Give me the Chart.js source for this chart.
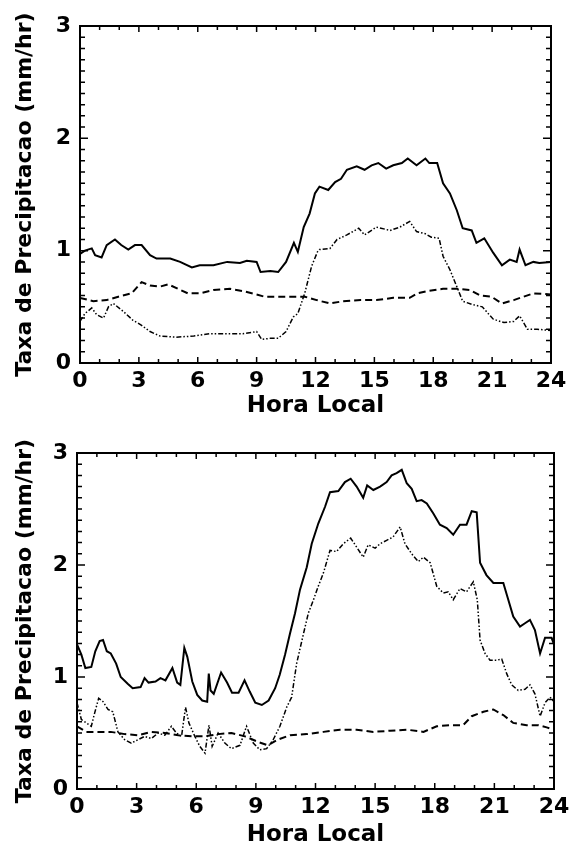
<!DOCTYPE html>
<html lang="pt">
<head>
  <meta charset="UTF-8">
  <title>Taxa de Precipitacao</title>
  <script src="https://cdn.jsdelivr.net/npm/chart.js"></script>
  <style>
    body { margin: 0; background: #fff; }
    canvas { display: block; }
  </style>
</head>
<body>
  <canvas id="top-chart" width="576" height="420"></canvas>
  <canvas id="bottom-chart" width="576" height="429"></canvas>

  <script>
    // ---- Painel superior ----
    const topSolidHours = [0, 0.25, 0.6, 0.77, 1.1, 1.36, 1.78, 2.1, 2.46, 2.8, 3.14, 3.57, 3.9, 4.6, 5.1, 5.7, 6.1, 6.8, 7.5, 8.15, 8.5, 9.0, 9.2, 9.7, 10.1, 10.5, 10.9, 11.1, 11.4, 11.7, 11.97, 12.2, 12.65, 13.0, 13.3, 13.6, 14.1, 14.5, 14.86, 15.2, 15.6, 15.96, 16.4, 16.7, 17.15, 17.6, 17.8, 18.2, 18.5, 18.85, 19.2, 19.5, 19.96, 20.2, 20.6, 21.06, 21.5, 21.9, 22.25, 22.4, 22.7, 23.1, 23.4, 24];
    const topSolidValues = [0.97, 1.0, 1.02, 0.96, 0.94, 1.05, 1.10, 1.05, 1.01, 1.05, 1.05, 0.96, 0.93, 0.93, 0.90, 0.85, 0.87, 0.87, 0.90, 0.89, 0.91, 0.90, 0.81, 0.82, 0.81, 0.90, 1.07, 0.99, 1.21, 1.33, 1.51, 1.57, 1.54, 1.61, 1.64, 1.72, 1.75, 1.72, 1.76, 1.78, 1.73, 1.76, 1.78, 1.82, 1.76, 1.82, 1.78, 1.78, 1.60, 1.51, 1.36, 1.20, 1.18, 1.07, 1.11, 0.98, 0.87, 0.92, 0.90, 1.01, 0.87, 0.90, 0.89, 0.90];

    const topDashHours = [0, 0.68, 1.36, 1.95, 2.63, 3.14, 3.57, 4.08, 4.5, 5.0, 5.5, 6.1, 6.8, 7.64, 8.3, 9.0, 9.4, 10.0, 10.9, 11.46, 12.06, 12.74, 13.4, 14.3, 15.1, 15.96, 16.8, 17.2, 17.7, 18.5, 19.2, 19.87, 20.4, 20.97, 21.5, 22.1, 22.6, 23.1, 24];
    const topDashValues = [0.58, 0.55, 0.56, 0.59, 0.62, 0.72, 0.69, 0.68, 0.70, 0.66, 0.62, 0.62, 0.65, 0.66, 0.64, 0.61, 0.59, 0.59, 0.59, 0.59, 0.56, 0.53, 0.55, 0.56, 0.56, 0.58, 0.58, 0.62, 0.64, 0.66, 0.66, 0.65, 0.60, 0.59, 0.53, 0.56, 0.59, 0.62, 0.61];

    const topDotHours = [0, 0.25, 0.6, 0.85, 1.2, 1.45, 1.7, 2.2, 2.7, 3.1, 3.57, 4.08, 4.9, 5.8, 6.6, 7.5, 8.3, 9.0, 9.26, 9.7, 10.1, 10.5, 10.87, 11.1, 11.45, 11.8, 12.1, 12.2, 12.74, 13.1, 13.6, 14.2, 14.5, 15.1, 15.8, 16.3, 16.8, 17.15, 17.6, 17.9, 18.3, 18.5, 18.85, 19.2, 19.5, 20.0, 20.5, 20.7, 21.06, 21.6, 22.1, 22.4, 22.8, 23.3, 24];
    const topDotValues = [0.37, 0.44, 0.49, 0.43, 0.40, 0.50, 0.53, 0.46, 0.38, 0.34, 0.28, 0.24, 0.23, 0.24, 0.26, 0.26, 0.26, 0.28, 0.21, 0.22, 0.22, 0.28, 0.41, 0.44, 0.62, 0.86, 0.99, 1.01, 1.02, 1.10, 1.14, 1.20, 1.14, 1.21, 1.18, 1.21, 1.26, 1.17, 1.15, 1.12, 1.11, 0.95, 0.83, 0.68, 0.55, 0.52, 0.50, 0.46, 0.39, 0.36, 0.37, 0.42, 0.30, 0.30, 0.29];

    // ---- Painel inferior ----
    const botSolidHours = [0, 0.22, 0.42, 0.72, 0.92, 1.14, 1.31, 1.5, 1.7, 1.97, 2.2, 2.55, 2.8, 3.2, 3.4, 3.6, 3.95, 4.2, 4.45, 4.8, 5.04, 5.2, 5.4, 5.55, 5.8, 6.05, 6.3, 6.55, 6.63, 6.72, 6.88, 7.25, 7.55, 7.8, 8.13, 8.43, 8.69, 8.97, 9.3, 9.64, 9.97, 10.2, 10.47, 10.72, 10.97, 11.22, 11.56, 11.81, 12.14, 12.48, 12.73, 13.15, 13.48, 13.77, 14.07, 14.4, 14.6, 14.91, 15.25, 15.58, 15.83, 16.08, 16.34, 16.59, 16.84, 17.09, 17.34, 17.6, 17.93, 18.26, 18.6, 18.93, 19.27, 19.6, 19.86, 20.11, 20.28, 20.6, 20.95, 21.45, 21.7, 21.95, 22.29, 22.54, 22.79, 23.04, 23.3, 23.55, 23.88, 24];
    const botSolidValues = [1.29, 1.20, 1.08, 1.09, 1.23, 1.32, 1.33, 1.23, 1.21, 1.12, 1.00, 0.94, 0.90, 0.91, 0.99, 0.95, 0.96, 0.99, 0.97, 1.08, 0.95, 0.93, 1.26, 1.18, 0.96, 0.84, 0.79, 0.78, 1.03, 0.88, 0.85, 1.04, 0.95, 0.86, 0.86, 0.97, 0.87, 0.77, 0.75, 0.79, 0.90, 1.02, 1.20, 1.39, 1.57, 1.78, 1.98, 2.19, 2.37, 2.52, 2.65, 2.66, 2.74, 2.77, 2.70, 2.60, 2.71, 2.67, 2.70, 2.74, 2.80, 2.82, 2.85, 2.73, 2.68, 2.57, 2.58, 2.55, 2.46, 2.36, 2.33, 2.27, 2.36, 2.36, 2.48, 2.47, 2.02, 1.91, 1.84, 1.84, 1.69, 1.54, 1.45, 1.48, 1.51, 1.42, 1.21, 1.35, 1.35, 1.29];

    const botDashHours = [0, 0.47, 1.06, 1.7, 2.4, 3.07, 3.74, 4.42, 5.1, 5.77, 6.44, 7.1, 7.77, 8.45, 9.12, 9.6, 10.1, 10.72, 11.56, 12.4, 13.23, 14.07, 14.91, 15.75, 16.59, 17.43, 18.1, 18.77, 19.43, 19.86, 20.45, 20.95, 21.45, 21.95, 22.62, 23.2, 23.63, 24];
    const botDashValues = [0.56, 0.51, 0.51, 0.51, 0.49, 0.48, 0.51, 0.50, 0.48, 0.47, 0.47, 0.49, 0.50, 0.47, 0.42, 0.39, 0.44, 0.48, 0.49, 0.51, 0.53, 0.53, 0.51, 0.52, 0.53, 0.51, 0.56, 0.57, 0.57, 0.65, 0.69, 0.71, 0.66, 0.59, 0.57, 0.57, 0.55, 0.53];

    const botDotHours = [0, 0.22, 0.47, 0.72, 0.89, 1.09, 1.31, 1.56, 1.8, 2.06, 2.4, 2.73, 3.07, 3.4, 3.74, 4.08, 4.42, 4.75, 5.0, 5.26, 5.46, 5.63, 5.93, 6.18, 6.44, 6.64, 6.8, 7.1, 7.44, 7.77, 8.2, 8.53, 8.87, 9.2, 9.54, 9.87, 10.21, 10.55, 10.8, 11.05, 11.4, 11.64, 11.9, 12.14, 12.4, 12.73, 13.06, 13.4, 13.77, 14.07, 14.4, 14.65, 15.0, 15.25, 15.58, 15.9, 16.26, 16.5, 16.84, 17.17, 17.43, 17.77, 18.1, 18.43, 18.68, 18.93, 19.27, 19.6, 19.94, 20.14, 20.28, 20.53, 20.78, 21.12, 21.37, 21.62, 21.87, 22.2, 22.54, 22.79, 23.04, 23.3, 23.55, 23.8, 24];
    const botDotValues = [0.77, 0.62, 0.59, 0.56, 0.68, 0.81, 0.78, 0.71, 0.69, 0.51, 0.44, 0.41, 0.44, 0.47, 0.45, 0.50, 0.48, 0.56, 0.50, 0.47, 0.73, 0.59, 0.47, 0.38, 0.32, 0.57, 0.38, 0.50, 0.41, 0.36, 0.39, 0.56, 0.41, 0.35, 0.36, 0.44, 0.56, 0.73, 0.82, 1.12, 1.39, 1.57, 1.69, 1.81, 1.93, 2.13, 2.12, 2.19, 2.24, 2.16, 2.07, 2.18, 2.15, 2.19, 2.22, 2.25, 2.34, 2.19, 2.10, 2.03, 2.07, 2.02, 1.81, 1.75, 1.76, 1.69, 1.79, 1.76, 1.85, 1.69, 1.33, 1.21, 1.15, 1.15, 1.16, 1.03, 0.93, 0.88, 0.89, 0.93, 0.85, 0.65, 0.77, 0.82, 0.78];

    const xTickStep = 3;
    const yMax = 3;

    // pair hours with values for a linear x axis
    function toPoints(hours, values) {
      return hours.map((h, i) => ({ x: h, y: values[i] }));
    }

    // frame box with inward ticks on all four sides
    const frameTicks = {
      id: 'frameTicks',
      afterDatasetsDraw(chart) {
        const { ctx, chartArea: a, scales: { x, y } } = chart;
        ctx.save();
        ctx.strokeStyle = '#000';
        ctx.lineWidth = 2;
        ctx.strokeRect(a.left, a.top, a.right - a.left, a.bottom - a.top);
        ctx.lineWidth = 1.5;
        ctx.beginPath();
        for (let h = 0; h <= 24; h++) {
          const px = x.getPixelForValue(h);
          const len = h % xTickStep === 0 ? 6 : 4;
          ctx.moveTo(px, a.bottom); ctx.lineTo(px, a.bottom - len);
          ctx.moveTo(px, a.top); ctx.lineTo(px, a.top + len);
        }
        for (let i = 0; i <= yMax * 10; i++) {
          const py = y.getPixelForValue(i / 10);
          const len = i % 10 === 0 ? 8 : 5;
          ctx.moveTo(a.left, py); ctx.lineTo(a.left + len, py);
          ctx.moveTo(a.right, py); ctx.lineTo(a.right - len, py);
        }
        ctx.stroke();
        ctx.restore();
      }
    };

    function makeChart(id, series, area, canvasH) {
      const tickFont = { family: 'DejaVu Sans', weight: 'bold', size: 22 };
      return new Chart(document.getElementById(id), {
        type: 'line',
        data: {
          datasets: [
            { data: toPoints(series[0][0], series[0][1]), borderColor: '#000', borderWidth: 2, pointRadius: 0 },
            { data: toPoints(series[1][0], series[1][1]), borderColor: '#000', borderWidth: 2, borderDash: [7, 4], pointRadius: 0 },
            { data: toPoints(series[2][0], series[2][1]), borderColor: '#000', borderWidth: 1.5, borderDash: [5, 2, 1.5, 2, 1.5, 2], pointRadius: 0 }
          ]
        },
        options: {
          responsive: false,
          animation: false,
          events: [],
          layout: { padding: { left: 6, right: 576 - area.right, top: area.top, bottom: 0 } },
          plugins: { legend: { display: false }, tooltip: { enabled: false } },
          scales: {
            x: {
              type: 'linear', min: 0, max: 24,
              grid: { display: false, drawTicks: false },
              border: { display: false },
              ticks: { stepSize: xTickStep, color: '#000', font: tickFont, padding: 5, maxRotation: 0 },
              title: { display: true, text: 'Hora Local', color: '#000', padding: 0,
                       font: { family: 'DejaVu Sans', weight: 'bold', size: 23 } },
              afterFit(scale) { scale.height = canvasH - area.bottom; }
            },
            y: {
              min: 0, max: yMax,
              grid: { display: false, drawTicks: false },
              border: { display: false },
              ticks: { stepSize: 1, color: '#000', font: tickFont, padding: 9 },
              title: { display: true, text: 'Taxa de Precipitacao (mm/hr)', color: '#000', padding: { top: 6, bottom: 0 },
                       font: { family: 'DejaVu Sans', weight: 'bold', size: 22 } },
              afterFit(scale) { scale.width = area.left - 6; }
            }
          }
        },
        plugins: [frameTicks]
      });
    }

    makeChart('top-chart',
      [[topSolidHours, topSolidValues], [topDashHours, topDashValues], [topDotHours, topDotValues]],
      { left: 80, right: 551, top: 26, bottom: 363 }, 420);

    makeChart('bottom-chart',
      [[botSolidHours, botSolidValues], [botDashHours, botDashValues], [botDotHours, botDotValues]],
      { left: 77, right: 554, top: 33, bottom: 369 }, 429);
  </script>
</body>
</html>
